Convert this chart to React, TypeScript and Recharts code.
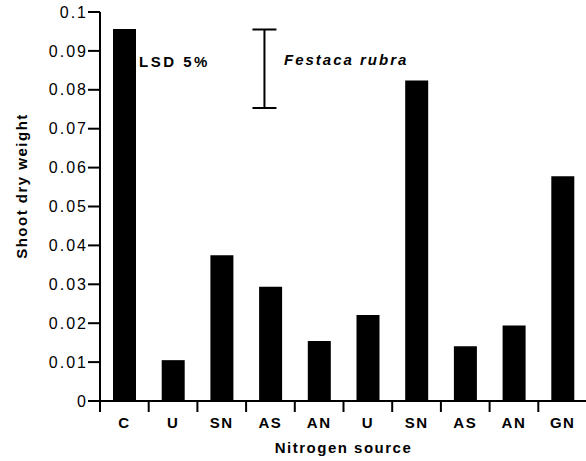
import { ComposedChart, Bar, XAxis, YAxis, ReferenceLine, Label } from 'recharts';

const ids = ['C', 'U1', 'SN1', 'AS1', 'AN1', 'U2', 'SN2', 'AS2', 'AN2', 'GN'];
const names = ['C', 'U', 'SN', 'AS', 'AN', 'U', 'SN', 'AS', 'AN', 'GN'];
const weights = [0.0956, 0.0105, 0.0375, 0.0294, 0.0154, 0.0221, 0.0824, 0.0141, 0.0194, 0.0578];
const yTicks = [0, 0.01, 0.02, 0.03, 0.04, 0.05, 0.06, 0.07, 0.08, 0.09, 0.1];
const lsdLow = 0.0753;
const lsdHigh = 0.0955;

const font = '"Liberation Sans", Arial, sans-serif';

const chartData = ids.map((id, i) => ({ id, name: names[i], weight: weights[i] }));

const XTick = (props: any) => {
  const { x, y, payload, index } = props;
  const half = payload.offset ?? 24;
  return (
    <g>
      <line x1={x - half} x2={x - half} y1={y - 15} y2={y - 4} stroke='#000' strokeWidth={2} />
      <text
        x={x}
        y={y}
        dy={12}
        textAnchor='middle'
        fontFamily={font}
        fontSize={15}
        fontWeight='bold'
        letterSpacing={1.5}
        fill='#000'
      >
        {names[index]}
      </text>
    </g>
  );
};

const LsdShape = (props: any) => {
  const { x1, y1, x2, y2 } = props;
  if (x1 == null) return null;
  const w = 12;
  const dx = -6;
  return (
    <path
      d={`M${x1 + dx - w},${y1}H${x1 + dx + w}M${x1 + dx},${y1}V${y2}M${x2 + dx - w},${y2}H${x2 + dx + w}`}
      stroke='#000'
      strokeWidth={2}
      fill='none'
    />
  );
};

const App = () => {
  return (
    <div style={{ position: 'absolute', left: 0, top: 0, width: 586, height: 461, overflow: 'hidden', background: '#fff' }}>
      <ComposedChart
        width={590}
        height={461}
        data={chartData}
        margin={{ top: 12, right: 3, bottom: 0, left: 0 }}
      >
        <XAxis
          dataKey='id'
          height={60}
          axisLine={{ stroke: '#000', strokeWidth: 2 }}
          tickLine={false}
          tickSize={11}
          tickMargin={4}
          interval={0}
          tick={<XTick />}
        >
          <Label
            value='Nitrogen source'
            position='insideBottom'
            offset={8}
            style={{ fontFamily: font, fontSize: 15, fontWeight: 'bold', fill: '#000', letterSpacing: 1.5 }}
          />
        </XAxis>
        <YAxis
          type='number'
          domain={[0, 0.1]}
          ticks={yTicks}
          width={100}
          interval={0}
          axisLine={{ stroke: '#000', strokeWidth: 2 }}
          tickLine={{ stroke: '#000', strokeWidth: 2 }}
          tickSize={12}
          tickMargin={0}
          tickFormatter={(v: number) => String(+v.toFixed(2))}
          tick={{ fontFamily: font, fontSize: 16, fill: '#000', letterSpacing: 2 }}
        />
        <Bar dataKey='weight' fill='#000' barSize={23} isAnimationActive={false} />
        <ReferenceLine
          segment={[
            { x: 'AS1', y: lsdHigh },
            { x: 'AS1', y: lsdLow },
          ]}
          stroke='#000'
          shape={<LsdShape />}
        />
        <text
          x={0}
          y={0}
          transform='translate(21,186) rotate(-90)'
          textAnchor='middle'
          dominantBaseline='central'
          fontFamily={font}
          fontSize={15}
          fontWeight='bold'
          letterSpacing={1.5}
          fill='#000'
        >
          Shoot dry weight
        </text>
        <text x={139} y={67} fontFamily={font} fontSize={15} fontWeight='bold' letterSpacing={2.5} fill='#000'>
          LSD 5%
        </text>
        <text x={284} y={65} fontFamily={font} fontSize={15} fontStyle='italic' fontWeight='bold' letterSpacing={2} fill='#000'>
          Festaca rubra
        </text>
      </ComposedChart>
    </div>
  );
};

export default App;
